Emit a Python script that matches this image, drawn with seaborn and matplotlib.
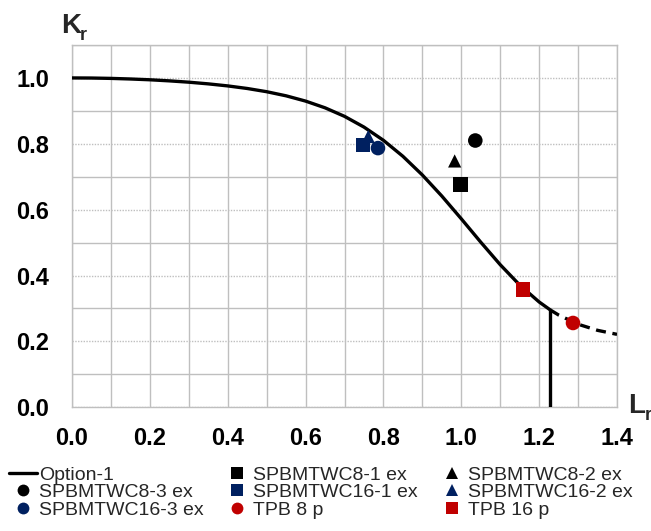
import matplotlib
matplotlib.use("Agg")
import matplotlib.pyplot as plt
from matplotlib.lines import Line2D
from matplotlib.ticker import MultipleLocator
import seaborn as sns
import pandas as pd

# Option-1 failure assessment curve
curve_lr = [0.0, 0.05, 0.1, 0.15, 0.2, 0.25, 0.3, 0.35, 0.4, 0.45, 0.5, 0.55,
            0.6, 0.65, 0.7, 0.75, 0.8, 0.85, 0.9, 0.95, 1.0, 1.05, 1.1, 1.15,
            1.2, 1.229]
curve_kr = [1.0, 0.9997, 0.9986, 0.9968, 0.9944, 0.9911, 0.9871, 0.9820,
            0.9758, 0.9680, 0.9582, 0.9457, 0.9297, 0.9093, 0.8834, 0.8508,
            0.8106, 0.7621, 0.7053, 0.6414, 0.5723, 0.5014, 0.4330, 0.3713,
            0.3198, 0.2953]
# cut-off at Lr,max and the dashed continuation beyond it
cutoff_lr = [1.229, 1.229]
cutoff_kr = [0.0, 0.2953]
tail_lr = [1.229, 1.25, 1.3, 1.35, 1.4]
tail_kr = [0.2953, 0.2802, 0.2522, 0.2337, 0.2215]

# assessment points
point_names = ["SPBMTWC8-1 ex", "SPBMTWC8-2 ex", "SPBMTWC8-3 ex",
               "SPBMTWC16-1 ex", "SPBMTWC16-2 ex", "SPBMTWC16-3 ex",
               "TPB 8 p", "TPB 16 p"]
point_lr = [0.998, 0.983, 1.036, 0.748, 0.761, 0.786, 1.287, 1.158]
point_kr = [0.676, 0.748, 0.810, 0.797, 0.822, 0.787, 0.256, 0.358]
point_colors = ["black", "black", "black", "#002060", "#002060", "#002060",
                "#C00000", "#C00000"]
point_markers = ["s", "^", "o", "s", "^", "o", "o", "s"]
point_sizes = [10.5, 9.5, 10.5, 10.5, 9.5, 10.5, 10.5, 10.5]

x_ticks = [0.0, 0.2, 0.4, 0.6, 0.8, 1.0, 1.2, 1.4]
y_ticks = [0.0, 0.2, 0.4, 0.6, 0.8, 1.0]

sns.set_theme(style="white")
plt.rcParams["font.family"] = ["Liberation Sans", "DejaVu Sans"]

fig = plt.figure(figsize=(6.51, 5.31), dpi=100)
ax = fig.add_axes([72 / 651, 1 - 407.3 / 531, 545 / 651, 362.3 / 531])

grid_c = "#bfbfbf"

sns.lineplot(x=curve_lr, y=curve_kr, color="black", lw=2.4, ax=ax,
             estimator=None, sort=False, zorder=3)
sns.lineplot(x=cutoff_lr, y=cutoff_kr, color="black", lw=2.4, ax=ax,
             estimator=None, sort=False, zorder=3)
sns.lineplot(x=tail_lr, y=tail_kr, color="black", lw=2.4, ax=ax,
             estimator=None, sort=False, zorder=3)
ax.lines[-1].set_dashes([3.0, 2.0])

df = pd.DataFrame({"Lr": point_lr, "Kr": point_kr, "name": point_names})
for name, c, m, s in zip(point_names, point_colors, point_markers, point_sizes):
    sub = df[df["name"] == name]
    sns.scatterplot(data=sub, x="Lr", y="Kr", color=c, marker=m, s=s ** 2,
                    edgecolor="none", linewidth=0, ax=ax, zorder=4)

ax.set_xlim(0, 1.4)
ax.set_ylim(0, 1.1)
ax.set_xticks(x_ticks)
ax.set_yticks(y_ticks)
ax.set_xticklabels([f"{v:.1f}" for v in x_ticks])
ax.set_yticklabels([f"{v:.1f}" for v in y_ticks])
ax.xaxis.set_minor_locator(MultipleLocator(0.1))
ax.yaxis.set_minor_locator(MultipleLocator(0.1))
ax.set_xlabel("")
ax.set_ylabel("")

ax.grid(which="minor", color=grid_c, lw=1.0, ls="-")
ax.grid(which="major", axis="x", color=grid_c, lw=1.0, ls="-")
ax.grid(which="major", axis="y", color=grid_c, lw=1.0, ls=(0, (1, 1)))
ax.set_axisbelow(True)
for sp in ax.spines.values():
    sp.set_color(grid_c)
    sp.set_linewidth(1.0)

ax.tick_params(which="major", length=5.5, width=1, color=grid_c,
               labelsize=17, labelcolor="black", direction="out")
ax.tick_params(which="minor", length=0)
ax.tick_params(axis="x", pad=9)
ax.tick_params(axis="y", pad=11)
for lab in ax.get_xticklabels() + ax.get_yticklabels():
    lab.set_fontweight("bold")

# axis titles as in the original (K_r above, L_r at the right)
fig.text(61 / 651, 1 - 33 / 531, "K", fontsize=20, fontweight="bold",
         ha="left", va="baseline")
fig.text(80 / 651, 1 - 40 / 531, "r", fontsize=13, fontweight="bold",
         ha="left", va="baseline")
fig.text(628 / 651, 1 - 413 / 531, "L", fontsize=20, fontweight="bold",
         ha="left", va="baseline")
fig.text(645 / 651, 1 - 420 / 531, "r", fontsize=13, fontweight="bold",
         ha="left", va="baseline")

# legend in row order of the original (filled column-wise)
def mk(i):
    return Line2D([], [], ls="none", marker=point_markers[i],
                  color=point_colors[i], markersize=8.5, mew=0)

line_h = Line2D([], [], color="black", lw=2.4)
handles = [line_h, mk(2), mk(5), mk(0), mk(3), mk(6), mk(1), mk(4), mk(7)]
labels = ["Option-1", point_names[2], point_names[5], point_names[0],
          point_names[3], point_names[6], point_names[1], point_names[4],
          point_names[7]]
fig.legend(handles, labels, ncol=3, loc="upper left",
           bbox_to_anchor=(9 / 651, 1 - 466 / 531), frameon=False,
           fontsize=14, handlelength=1.45, handletextpad=0.1,
           columnspacing=1.0, labelspacing=0.0, borderpad=0,
           borderaxespad=0)

fig.savefig("out.png", dpi=100)
